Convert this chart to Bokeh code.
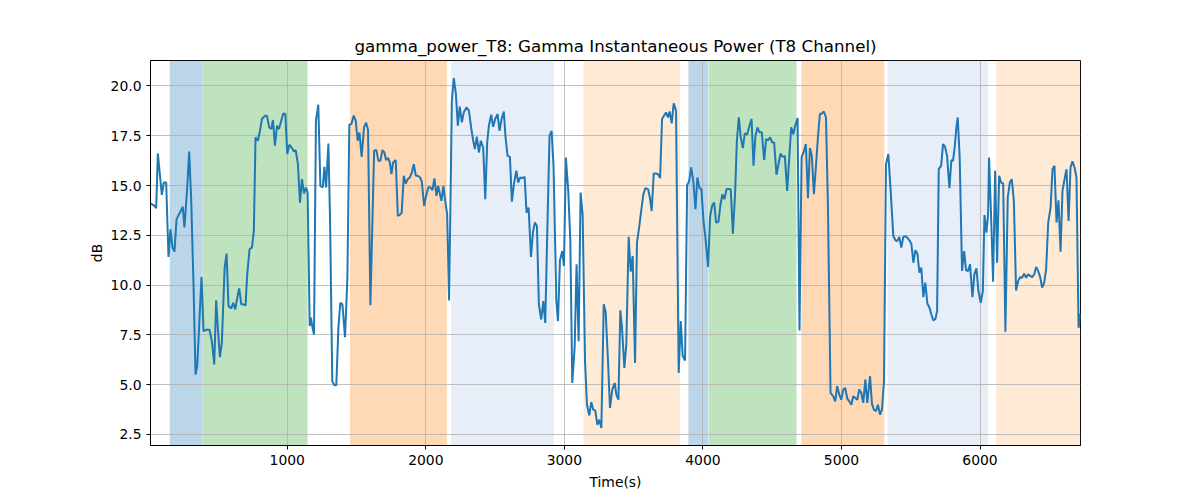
from bokeh.plotting import figure
from bokeh.models import BoxAnnotation, FixedTicker, Range1d, NumeralTickFormatter
from bokeh.embed import file_html
from bokeh.resources import INLINE

title_text = "gamma_power_T8: Gamma Instantaneous Power (T8 Channel)"
x_label = "Time(s)"
y_label = "dB"

time_s = [
    13, 42, 54, 66, 78, 95, 109, 126, 143, 157, 172, 186, 201, 222, 246, 258, 278, 292, 307, 324,
    338, 350, 367, 381, 396, 415, 439, 456, 473, 487, 499, 514, 528, 548, 562, 576, 596, 610, 625, 639,
    653, 668, 682, 699, 711, 728, 745, 759, 771, 788, 803, 817, 841, 853, 870, 885, 897, 911, 926, 940,
    957, 971, 986, 1000, 1015, 1034, 1048, 1061, 1077, 1092, 1106, 1121, 1135,
    1147, 1162, 1171, 1181, 1193, 1207, 1224, 1239, 1256, 1268, 1280, 1297, 1309, 1325, 1340, 1354,
    1369, 1383, 1398, 1417, 1434, 1448, 1463, 1480, 1494, 1508, 1521, 1537, 1554, 1569, 1583, 1600,
    1627, 1643, 1658, 1672, 1687, 1701, 1713, 1728, 1740, 1752, 1764, 1783, 1798, 1812, 1826, 1841,
    1855, 1870, 1884, 1899, 1913, 1928, 1942, 1959, 1971, 1988, 2002, 2019, 2034, 2048, 2062, 2077,
    2089, 2101, 2113, 2127, 2140, 2154, 2168, 2188, 2202, 2217, 2231, 2245, 2260, 2274,
    2294, 2311, 2327, 2342, 2354, 2368, 2383, 2397, 2414, 2429, 2443, 2455, 2472, 2486, 2501, 2518,
    2532, 2547, 2563, 2575, 2590, 2607, 2621, 2636, 2653, 2667, 2681, 2696, 2713, 2727, 2742, 2759,
    2773, 2787, 2802, 2816, 2833, 2848, 2862, 2879, 2893, 2908, 2922, 2942, 2954, 2968, 2985, 2997,
    3011, 3028, 3043, 3057, 3074, 3088, 3103, 3117, 3132, 3149, 3163, 3180, 3194, 3209, 3223, 3238,
    3252, 3267, 3284, 3298, 3315, 3329, 3346, 3363, 3375, 3390, 3404,
    3416, 3433, 3447, 3464, 3479, 3493, 3510, 3524, 3541, 3556, 3570, 3585, 3604, 3618, 3630, 3645,
    3662, 3676, 3691, 3705, 3719, 3734, 3748, 3760, 3775, 3789, 3806, 3825, 3840, 3854, 3871, 3886,
    3900, 3915, 3931, 3946, 3960, 3975, 3989, 4004, 4018, 4037, 4052, 4066, 4081, 4095, 4112, 4127,
    4141, 4155, 4170, 4187, 4201, 4216, 4232, 4245, 4259, 4273, 4288, 4302, 4319, 4336, 4351, 4365,
    4379, 4394, 4408, 4425, 4442, 4456, 4471, 4485, 4500, 4514, 4531,
    4560, 4575, 4591, 4608, 4623, 4637, 4652, 4666, 4683, 4697, 4712, 4726, 4743, 4758, 4772, 4786,
    4801, 4815, 4830, 4844, 4859, 4873, 4888, 4902, 4921, 4941, 4955, 4969, 4984, 4998, 5013, 5027,
    5042, 5056, 5071, 5085, 5100, 5114, 5128, 5143, 5157, 5172, 5186, 5206, 5220, 5234, 5249, 5263,
    5278, 5292, 5307, 5321, 5338, 5355, 5374, 5389, 5403, 5417, 5432, 5446, 5461, 5475, 5490, 5504,
    5519, 5533, 5548, 5562, 5576, 5591, 5605, 5620, 5634, 5649, 5663, 5678,
    5690, 5702, 5719, 5733, 5747, 5762, 5779, 5793, 5805, 5817, 5829, 5839, 5853, 5870, 5885, 5899,
    5914, 5928, 5945, 5959, 5974, 5988, 6005, 6020, 6032, 6046, 6058, 6065, 6080, 6094, 6109, 6123,
    6138, 6152, 6167, 6183, 6200, 6215, 6229, 6244, 6260, 6275, 6289, 6304, 6318, 6333, 6347, 6362,
    6376, 6391, 6405, 6419, 6434, 6448, 6463, 6477, 6492, 6509, 6523, 6537, 6552, 6566, 6581, 6595,
    6610, 6624, 6639, 6653, 6667, 6682, 6696, 6711, 6725,
]

power_db = [
    14.10, 13.98, 13.86, 16.61, 15.74, 14.53, 15.15, 15.15, 11.41, 12.80, 11.88, 11.68, 13.31, 13.59, 13.93, 12.89, 14.90, 16.71, 14.23, 9.87,
    5.50, 5.92, 8.36, 10.40, 7.68, 7.75, 7.75, 7.18, 6.01, 9.23, 7.85, 6.38, 7.10, 10.87, 11.58, 8.94, 8.83, 9.11, 8.78, 9.36,
    9.83, 9.03, 9.03, 8.98, 10.54, 11.80, 11.88, 12.72, 17.42, 17.25, 17.75, 18.34, 18.51, 18.51, 17.92, 17.84, 18.29, 17.00, 18.00, 17.84,
    18.26, 18.62, 18.59, 16.58, 17.05, 16.88, 16.71, 16.78, 16.07, 14.14, 15.32, 14.60, 14.90,
    14.65, 7.94, 8.36, 7.90, 7.52, 18.26, 19.06, 14.98, 14.90, 15.94, 14.90, 17.11, 13.22, 5.17, 4.97, 4.97,
    7.85, 9.11, 9.03, 7.38, 10.37, 18.05, 18.09, 18.51, 18.26, 17.25, 17.67, 16.44, 17.92, 18.16, 17.79, 8.99,
    16.75, 16.78, 16.24, 16.24, 16.78, 16.66, 16.28, 16.38, 16.16, 15.57, 16.16, 16.28, 13.47, 13.52, 13.64, 15.49,
    15.10, 15.32, 15.40, 15.65, 16.07, 15.49, 15.49, 15.40, 15.20, 13.98, 14.48, 14.93, 14.90, 14.77, 15.36, 14.48,
    14.98, 14.60, 14.23, 14.98, 14.23, 13.56, 9.23, 19.26, 20.40, 19.60, 18.00, 18.96, 18.17, 18.67,
    18.93, 18.76, 17.92, 17.25, 16.83, 17.45, 16.66, 17.25, 16.91, 14.31, 17.16, 18.00, 18.56, 17.95, 18.34, 18.59,
    17.75, 18.34, 18.72, 17.45, 16.49, 16.44, 14.19, 15.07, 15.74, 15.15, 15.40, 15.37, 15.44, 13.64, 13.89, 11.41,
    12.63, 13.14, 12.97, 9.03, 8.27, 9.19, 8.10, 13.39, 17.50, 17.75, 15.94, 9.19, 8.19, 11.24, 11.71, 10.96,
    16.41, 14.73, 12.21, 5.08, 6.85, 11.04, 7.18, 14.65, 13.52, 6.17, 3.99, 3.45, 4.12, 3.74, 3.69, 2.98,
    3.24, 2.82, 9.03, 8.66, 6.17, 3.82, 4.75, 5.08, 4.50, 4.24, 8.73,
    7.85, 5.84, 7.01, 12.42, 10.67, 11.46, 6.09, 12.13, 12.97, 13.81, 14.56, 14.87, 14.82, 14.36, 13.72, 15.60,
    15.60, 15.57, 15.37, 18.34, 18.51, 18.67, 18.42, 18.72, 18.12, 19.13, 18.76, 5.59, 8.19, 6.43, 6.21, 15.03,
    15.20, 15.91, 15.20, 13.81, 15.40, 14.87, 14.82, 13.22, 12.38, 10.91, 13.47, 13.98, 14.14, 13.14, 13.17, 14.06,
    14.56, 14.31, 14.82, 14.82, 14.80, 12.58, 14.56, 17.25, 18.42, 17.42, 16.88, 17.62, 17.55, 18.00, 18.34, 15.99,
    17.50, 17.92, 17.67, 17.67, 16.28, 17.33, 17.28, 17.42, 17.16, 17.16, 15.54,
    16.61, 16.44, 16.49, 14.73, 16.41, 17.92, 17.58, 18.00, 18.39, 7.72, 16.41, 16.66, 17.08, 14.36, 16.88, 16.49,
    14.56, 15.91, 17.42, 18.59, 18.62, 18.72, 18.42, 14.06, 4.58, 4.41, 4.16, 4.92, 4.50, 4.24, 4.75, 4.83,
    4.29, 4.16, 3.99, 4.41, 4.33, 4.24, 4.75, 4.58, 4.08, 5.25, 4.08, 5.42, 4.03, 3.74, 3.66, 3.99,
    3.49, 3.74, 5.17, 16.07, 16.58, 14.73, 12.47, 12.25, 12.21, 12.42, 11.88, 12.42, 12.45, 12.38, 12.25, 12.08,
    11.12, 11.75, 11.58, 10.62, 10.87, 9.39, 10.12, 9.06, 8.89, 8.52, 8.22, 8.30,
    8.69, 15.82, 15.99, 17.08, 16.95, 16.49, 14.87, 16.28, 16.24, 16.91, 17.92, 18.42, 16.41, 10.71, 11.71, 10.74,
    10.71, 11.04, 9.39, 10.54, 10.84, 9.70, 9.11, 9.70, 13.52, 12.63, 13.52, 16.41, 13.39, 10.17, 15.74, 11.12,
    15.49, 15.15, 15.10, 7.65, 14.40, 15.15, 15.32, 14.23, 9.73, 10.20, 10.40, 10.37, 10.57, 10.37, 10.54, 10.46,
    10.40, 10.54, 10.91, 10.71, 10.40, 9.87, 10.12, 10.79, 13.14, 13.89, 15.82, 15.99, 13.14, 14.26, 11.68, 14.73,
    15.32, 15.82, 13.22, 15.91, 16.21, 15.91, 15.40, 7.85, 8.56,
]

span_start = [152, 391, 1453, 2183, 3137, 3895, 4040, 4711, 5332, 6114]
span_end = [389, 1147, 2152, 2925, 3835, 4037, 4675, 5309, 6058, 6725]
span_color = ["#1f77b4", "#2ca02c", "#ff7f0e", "#aec7e8", "#ffbb78",
              "#1f77b4", "#2ca02c", "#ff7f0e", "#aec7e8", "#ffbb78"]

x_ticks = [1000, 2000, 3000, 4000, 5000, 6000]
y_ticks = [2.5, 5.0, 7.5, 10.0, 12.5, 15.0, 17.5, 20.0]

FONT = "DejaVu Sans"

p = figure(width=1200, height=500, output_backend="svg", toolbar_location=None,
           x_range=Range1d(min(time_s), max(time_s)), y_range=Range1d(1.94, 21.28),
           title=title_text)
p.min_border_left = 150
p.min_border_right = 120
p.min_border_top = 60
p.min_border_bottom = 55
p.background_fill_color = "white"
p.border_fill_color = "white"
p.outline_line_color = "black"
p.outline_line_width = 1
p.outline_line_alpha = 1

p.title.text_font = FONT
p.title.text_font_size = "16.7px"
p.title.text_font_style = "normal"
p.title.align = "center"
p.title.text_color = "black"

for s, e, c in zip(span_start, span_end, span_color):
    p.add_layout(BoxAnnotation(left=s, right=e, fill_color=c, fill_alpha=0.3,
                               line_color=None, level="image"))

p.line(time_s, power_db, line_color="#1f77b4", line_width=2)

p.xaxis.ticker = FixedTicker(ticks=x_ticks)
p.yaxis.ticker = FixedTicker(ticks=y_ticks)
p.yaxis.formatter = NumeralTickFormatter(format="0.0")
p.xaxis.axis_label = x_label
p.yaxis.axis_label = y_label
for ax in (p.xaxis, p.yaxis):
    ax.axis_label_text_font = FONT
    ax.axis_label_text_font_size = "13.9px"
    ax.axis_label_text_font_style = "normal"
    ax.major_label_text_font = FONT
    ax.major_label_text_font_size = "13.9px"
    ax.major_tick_out = 4
    ax.major_tick_in = 0
    ax.minor_tick_out = 0
    ax.minor_tick_in = 0
    ax.axis_line_color = "black"
    ax.major_tick_line_color = "black"
    ax.major_label_text_color = "black"
    ax.axis_label_text_color = "black"
p.xaxis.axis_label_standoff = 6
p.yaxis.axis_label_standoff = 3

p.grid.grid_line_color = "#b0b0b0"
p.grid.grid_line_width = 0.8

open("out.html", "w").write(file_html(p, INLINE))
